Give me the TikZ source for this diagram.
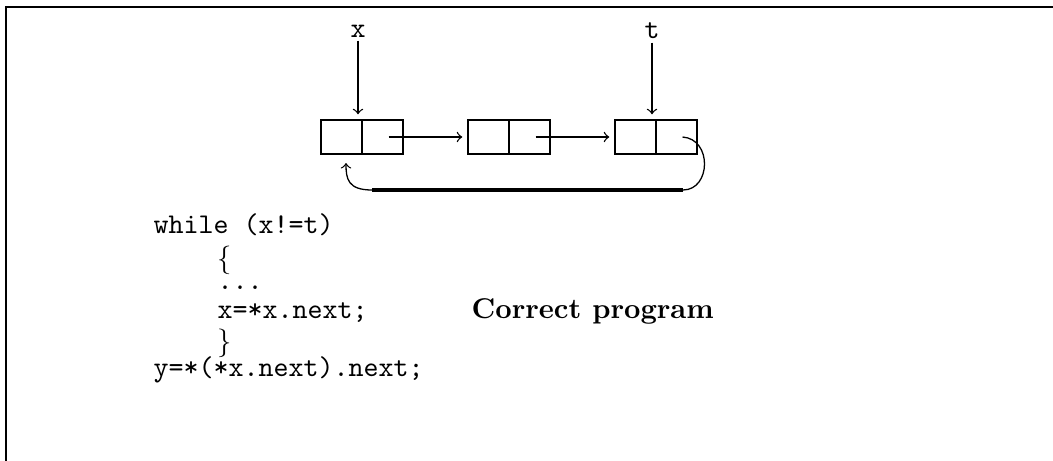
\documentclass[tikz,border=0pt]{standalone}
\usepackage{amsmath,amssymb}
\usepackage{tikz}
\usetikzlibrary{calc,positioning,arrows}
\tikzset{
   cell node/.style={rectangle,draw,line width=0.75pt,minimum width=41*0.35pt,minimum height=34*0.35pt,inner sep=0pt,outer sep=0pt},
   code node/.style={anchor=base west,inner sep=0pt,font=\ttfamily}
}

\begin{document}
\begin{tikzpicture}[x=0.35pt,y=-0.35pt,
                    ->,>=to,line width=0.45pt]
\useasboundingbox (0,0) rectangle (1053,461);
\draw[-,line width=1pt] (6,461) -- (6,7) -- (1053,7);
%
\node[cell node,anchor=north west] (c1a) at (321,120) {};
\node[cell node,anchor=west]       (c1b) at (c1a.east) {};
\node[cell node,anchor=north west] (c2a) at (468,120) {};
\node[cell node,anchor=west]       (c2b) at (c2a.east) {};
\node[cell node,anchor=north west] (c3a) at (615,120) {};
\node[cell node,anchor=west]       (c3b) at (c3a.east) {};
%
\node[font=\ttfamily,inner sep=1pt] (x) at (358,31) {x};
\node[font=\ttfamily,inner sep=1pt] (t) at (652,31) {t};
\path[shorten >=2pt]
  (x.south) edge (x.south |- c1a.north)
  (t.south) edge (t.south |- c3a.north)
  ([xshift=6*0.35pt]c1b.center) edge (c2a.west)
  ([xshift=6*0.35pt]c2b.center) edge (c3a.west)
  ;
%
\coordinate (loopR) at (683,190);
\coordinate (loopL) at (372,190);
\coordinate (back)  at (346,163);
\draw[-] ([xshift=6*0.35pt]c3b.center) .. controls +(30,2) and +(28,0) .. (loopR);
\draw[-,line width=1.2pt] (loopR) -- (loopL);
\draw (loopL) .. controls +(-24,0) and +(0,16) .. (back);
%
\node[code node] (while)  at (153,233) {while (x!=t)};
\node[code node] (lbrace) at (217,267) {$\{$};
\node[code node] (dots)   at (217,289) {...};
\node[code node] (assign) at (217,318) {x=*x.next;};
\node[code node] (rbrace) at (217,350) {$\}$};
\node[code node] (final)  at (153,376) {y=*(*x.next).next;};
\node[anchor=base west,inner sep=0pt] (result) at (471,318) {\textbf{Correct program}};
\end{tikzpicture}
\end{document}
